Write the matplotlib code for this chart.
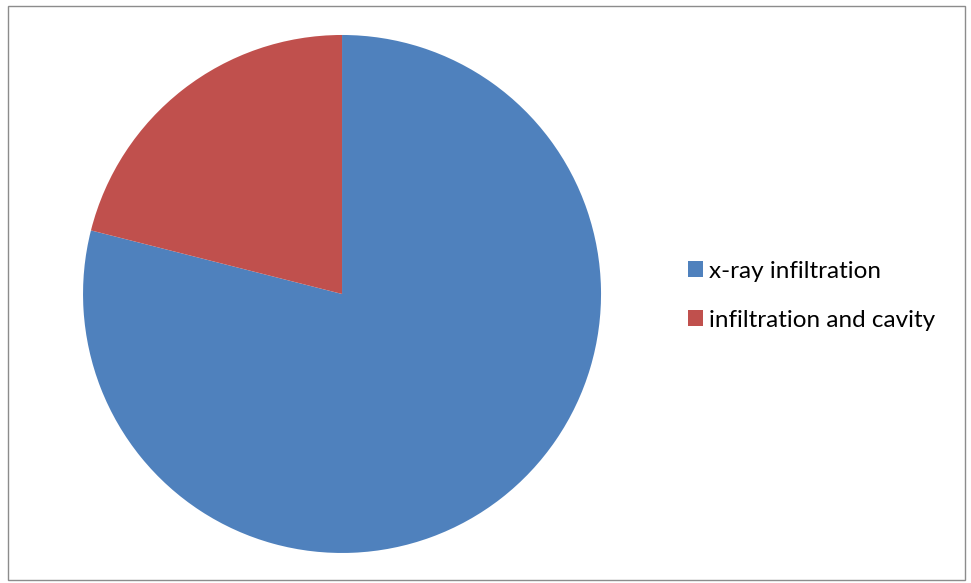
import matplotlib.pyplot as plt
from matplotlib.patches import Rectangle

labels = ["x-ray infiltration", "infiltration and cavity"]
values = [15, 4]
colors = ["#4F81BD", "#C0504D"]

plt.rcParams['font.family'] = ['Lato', 'DejaVu Sans']

fig = plt.figure(figsize=(9.71, 5.83), dpi=100)
fig.patches.append(Rectangle((8 / 971, 3 / 583), 957 / 971, 574 / 583,
                             transform=fig.transFigure, fill=False,
                             edgecolor="#8c8c8c", linewidth=1))

ax = fig.add_axes([0.0855, 0.0515, 0.5335, 0.8885])
wedges, _ = ax.pie(values, colors=colors, startangle=90, counterclock=False,
                   radius=1)
ax.set_xlim(-1, 1)
ax.set_ylim(-1, 1)
ax.set_aspect('equal')

fig.legend(wedges, labels, loc="center left", bbox_to_anchor=(0.6862, 0.493),
           frameon=False, fontsize=17.5, handlelength=0.62, handleheight=0.62,
           handletextpad=0.25, labelspacing=1.15)

plt.savefig("out.png", dpi=100)
